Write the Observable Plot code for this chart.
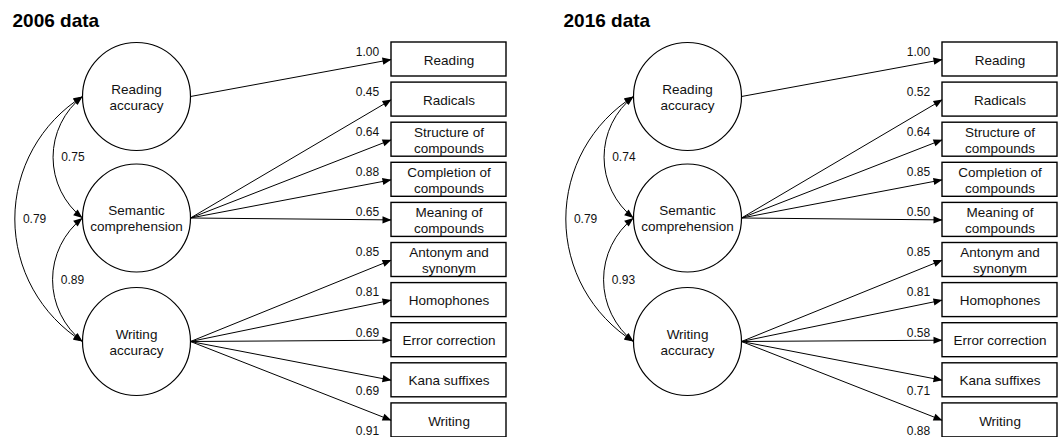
<!DOCTYPE html>
<html><head><meta charset="utf-8">
<script src="https://cdn.jsdelivr.net/npm/d3@7"></script>
<script src="https://cdn.jsdelivr.net/npm/@observablehq/plot@0.6"></script>
<style>body{margin:0;background:#fff}#chart svg{display:block}</style>
</head><body><div id="chart"></div>
<script>
// ---- data ----
const panelTitles = ["2006 data", "2016 data"];
const factorNames = ["Reading\naccuracy", "Semantic\ncomprehension", "Writing\naccuracy"];
const indicatorNames = ["Reading", "Radicals", "Structure of\ncompounds", "Completion of\ncompounds",
  "Meaning of\ncompounds", "Antonym and\nsynonym", "Homophones", "Error correction", "Kana suffixes", "Writing"];
const indicatorFactor = [0, 1, 1, 1, 1, 2, 2, 2, 2, 2];
const loadings2006 = [1.00, 0.45, 0.64, 0.88, 0.65, 0.85, 0.81, 0.69, 0.69, 0.91];
const loadings2016 = [1.00, 0.52, 0.64, 0.85, 0.50, 0.85, 0.81, 0.58, 0.71, 0.88];
const correlationPairs = [[0, 1], [1, 2], [0, 2]];
const correlations2006 = [0.75, 0.89, 0.79];
const correlations2016 = [0.74, 0.93, 0.79];

// ---- layout ----
const W = 1060, H = 437;
const panelDx = 551;
const circleX = 136, circleR = 54, factorY = [96, 217.5, 341];
const boxX1 = 391, boxX2 = 506, boxTop0 = 42, boxStep = 40.1, boxH = 34;

const titles = [], factors = [], boxes = [], paths = [], heads = [], loadLabels = [], arcs = [], corrLabels = [];
panelTitles.forEach((title, p) => {
  const dx = p * panelDx;
  const loads = p === 0 ? loadings2006 : loadings2016;
  const corrs = p === 0 ? correlations2006 : correlations2016;
  titles.push({x: 12 + dx, y: 20.5, text: title});
  factorNames.forEach((name, f) => factors.push({x: circleX + dx, y: factorY[f], name}));
  indicatorNames.forEach((name, i) => {
    const top = boxTop0 + boxStep * i, cy = top + boxH / 2;
    boxes.push({x1: boxX1 + dx, x2: boxX2 + dx, y1: top, y2: top + boxH, cx: (boxX1 + boxX2) / 2 + dx, cy, name});
    const sx = circleX + circleR + dx, sy = factorY[indicatorFactor[i]];
    const ex = boxX1 + dx, ey = cy;
    paths.push({x1: sx, y1: sy, x2: ex, y2: ey});
    heads.push({x: ex, y: ey, angle: Math.atan2(ey - sy, ex - sx) * 180 / Math.PI});
    const down = ey - sy > 10;
    loadLabels.push({x: ex - 24, y: down ? ey + 11 : ey - 7.5, text: loads[i].toFixed(2)});
  });
  correlationPairs.forEach(([a, b], k) => {
    const adjacent = b - a === 1;
    const bend = adjacent ? 52 : 58;
    const x = circleX - circleR + dx, y1 = factorY[a], y2 = factorY[b];
    const L = y2 - y1;
    const sag = L / 2 * Math.tan(bend / 2 * Math.PI / 180);
    arcs.push({x1: x, y1, x2: x, y2, bend});
    heads.push({x, y: y1, angle: bend - 90});
    heads.push({x, y: y2, angle: 90 - bend});
    corrLabels.push({x: x - sag + 20, y: (y1 + y2) / 2, text: corrs[k].toFixed(2)});
  });
});

const arrowHead = {
  draw(ctx) { ctx.moveTo(0, 0); ctx.lineTo(-9, -3.6); ctx.lineTo(-9, 3.6); ctx.closePath(); }
};

const plot = Plot.plot({
  width: W, height: H, margin: 0,
  x: {domain: [0, W], range: [0, W], axis: null},
  y: {domain: [0, H], range: [0, H], axis: null},
  style: {fontFamily: "'Liberation Sans', Arial, sans-serif", background: "#fff", color: "#000"},
  marks: [
    ...arcs.map(a => Plot.arrow([a], {x1: "x1", y1: "y1", x2: "x2", y2: "y2", bend: -a.bend, headLength: 0, stroke: "#000", strokeWidth: 1})),
    Plot.link(paths, {x1: "x1", y1: "y1", x2: "x2", y2: "y2", stroke: "#000", strokeWidth: 1}),
    Plot.dot(factors, {x: "x", y: "y", r: circleR, fill: "#fff", stroke: "#000", strokeWidth: 1.2}),
    Plot.rect(boxes, {x1: "x1", x2: "x2", y1: "y1", y2: "y2", fill: "#fff", stroke: "#000", strokeWidth: 1.4}),
    Plot.dot(heads, {x: "x", y: "y", rotate: "angle", symbol: arrowHead, r: 5, fill: "#000", stroke: "none"}),
    Plot.text(factors, {x: "x", y: "y", text: "name", fontSize: 13.5, lineHeight: 1.19, fill: "#111"}),
    Plot.text(boxes, {x: "cx", y: "cy", text: "name", fontSize: 13.5, lineHeight: 1.19, fill: "#111"}),
    Plot.text(loadLabels, {x: "x", y: "y", text: "text", fontSize: 12, fill: "#111"}),
    Plot.text(corrLabels, {x: "x", y: "y", text: "text", fontSize: 12, fill: "#111"}),
    Plot.text(titles, {x: "x", y: "y", text: "text", fontSize: 19, fontWeight: "bold", textAnchor: "start", fill: "#000"})
  ]
});
document.getElementById("chart").appendChild(plot);
</script>
</body></html>
